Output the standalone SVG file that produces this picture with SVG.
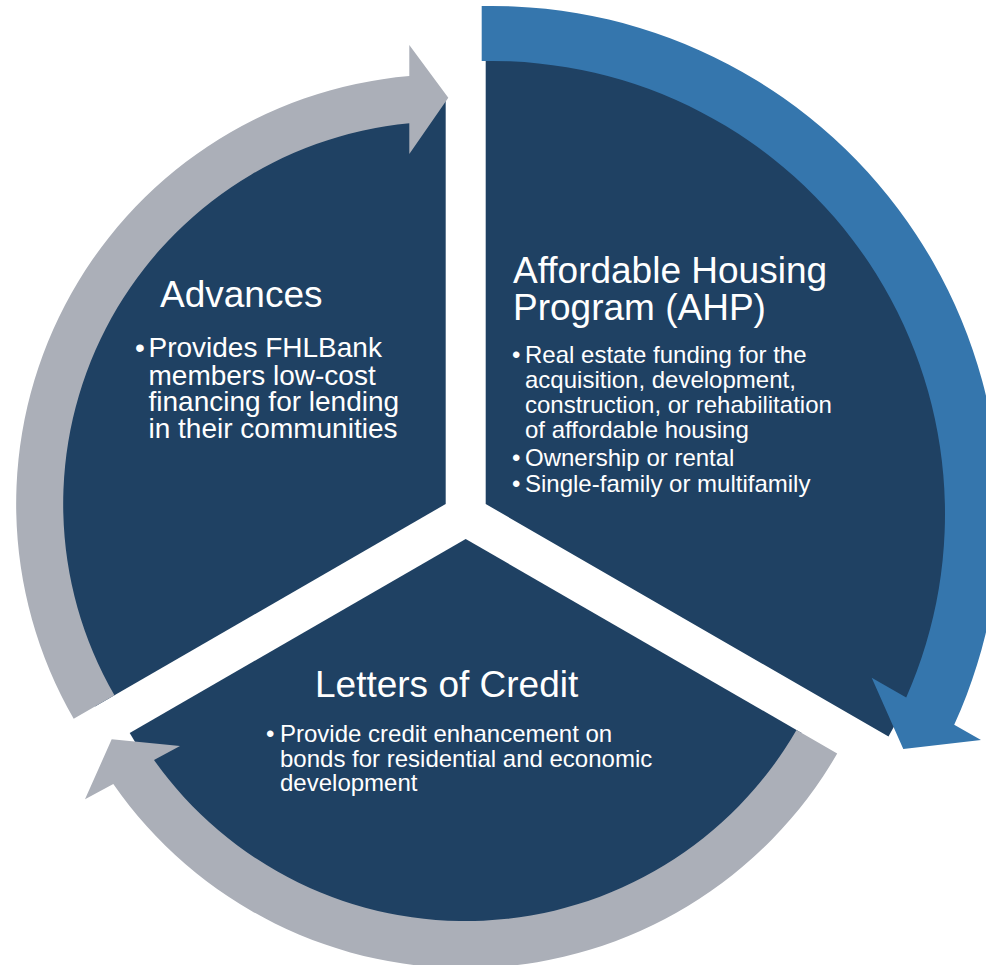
<svg xmlns="http://www.w3.org/2000/svg" width="986" height="965" viewBox="0 0 986 965">
  <style>
    .sector { fill: #1F4163; }
    .arc-gray { fill: #ABAFB8; }
    .arc-blue { fill: #3576AD; }
    text { font-family: "Liberation Sans", Arial, sans-serif; fill: #FFFFFF; }
    .title { font-size: 37px; }
    .body-lg { font-size: 28px; }
    .body { font-size: 24px; }
  </style>
  <rect width="986" height="965" fill="#FFFFFF"/>

  <!-- Advances segment (upper left) -->
  <g id="node-advances">
    <path class="sector" d="M445.7,504 L445.7,99 A405,405 0 0 0 95,706.5 Z"/>
    <text class="title" x="160" y="307">Advances</text>
    <text class="body-lg">
      <tspan x="135" y="357">•</tspan><tspan x="148.5" y="357">Provides FHLBank</tspan>
      <tspan x="148.5" y="384.5">members low-cost</tspan>
      <tspan x="148.5" y="411">financing for lending</tspan>
      <tspan x="148.5" y="438">in their communities</tspan>
    </text>
  </g>

  <!-- Affordable Housing Program segment (right, enlarged) -->
  <g id="node-ahp">
    <path class="sector" d="M485.7,504 L485.7,59.5 A454.5,454.5 0 0 1 888.5,736.6 Z"/>
    <text class="title">
      <tspan x="513" y="282.7">Affordable Housing</tspan>
      <tspan x="513" y="319.5">Program (AHP)</tspan>
    </text>
    <text class="body">
      <tspan x="512" y="362.5">•</tspan><tspan x="525" y="362.5">Real estate funding for the</tspan>
      <tspan x="525" y="387.5">acquisition, development,</tspan>
      <tspan x="525" y="412.5">construction, or rehabilitation</tspan>
      <tspan x="525" y="437.5">of affordable housing</tspan>
      <tspan x="512" y="466">•</tspan><tspan x="525" y="466">Ownership or rental</tspan>
      <tspan x="512" y="491.5">•</tspan><tspan x="525" y="491.5">Single-family or multifamily</tspan>
    </text>
  </g>

  <!-- Letters of Credit segment (bottom) -->
  <g id="node-letters">
    <path class="sector" d="M465.7,539 L801.7,733 A388,388 0 0 1 129.7,733 Z"/>
    <text class="title" x="315" y="697">Letters of Credit</text>
    <text class="body">
      <tspan x="266" y="742">•</tspan><tspan x="280" y="742">Provide credit enhancement on</tspan>
      <tspan x="280" y="767">bonds for residential and economic</tspan>
      <tspan x="280" y="791">development</tspan>
    </text>
  </g>

  <!-- Circular arrows running clockwise around the segments -->
  <g id="connectors">
    <path class="arc-gray" d="M114.45,695.25 L73.7,718.75 A429.5,429.5 0 0 1 409.3,76.05 L409.3,45 L448.3,97.7 L409.3,154 L409.3,123.2 A382.5,382.5 0 0 0 114.45,695.25 Z"/>
    <path class="arc-blue" d="M481.7,61.1 L481.7,6.1 A508,508 0 0 1 954.2,724.7 L981,740 L903.3,749 L871.7,677.7 L906.2,697.4 A453,453 0 0 0 481.7,61.1 Z"/>
    <path class="arc-gray" d="M796.5,730 L837.2,753.5 A429,429 0 0 1 113.3,784 L85,799.3 L111.7,739.3 L180,746 L154,760 A382,382 0 0 0 796.5,730 Z"/>
  </g>
</svg>
